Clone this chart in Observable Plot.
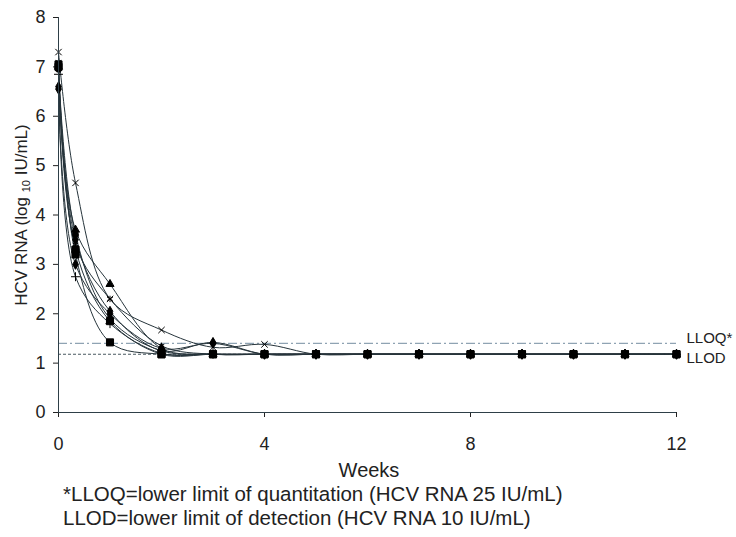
<!DOCTYPE html>
<html><head><meta charset="utf-8">
<script src="https://cdn.jsdelivr.net/npm/d3@7"></script>
<script src="https://cdn.jsdelivr.net/npm/@observablehq/plot@0.6"></script>
<style>
body{margin:0;background:#fff;font-family:"Liberation Sans",Arial,sans-serif;}
#notes{margin-left:63px;font-size:20.5px;line-height:24px;color:#222;}
</style></head>
<body>
<div id="chart"></div>
<div id="notes">
<div>*LLOQ=lower limit of quantitation (HCV RNA 25 IU/mL)</div>
<div>LLOD=lower limit of detection (HCV RNA 10 IU/mL)</div>
</div>
<script>
const weeks = [0, 0.33, 1, 2, 3, 4, 5, 6, 7, 8, 9, 10, 11, 12];
const patients = ["P1","P2","P3","P4","P5","P6","P7","P8","P9"];
const symbols  = ["times","triangle","diamond","asterisk","circle","plus","diamond","square","square"];
const p1 = [7.30, 4.65, 2.30, 1.67, 1.32, 1.38, 1.18, 1.18, 1.18, 1.18, 1.18, 1.18, 1.18, 1.18];
const p2 = [7.00, 3.70, 2.60, 1.30, 1.18, 1.18, 1.18, 1.18, 1.18, 1.18, 1.18, 1.18, 1.18, 1.18];
const p3 = [6.60, 3.50, 2.05, 1.25, 1.42, 1.18, 1.18, 1.18, 1.18, 1.18, 1.18, 1.18, 1.18, 1.18];
const p4 = [7.10, 3.40, 2.30, 1.35, 1.18, 1.18, 1.18, 1.18, 1.18, 1.18, 1.18, 1.18, 1.18, 1.18];
const p5 = [6.95, 3.60, 1.90, 1.25, 1.18, 1.18, 1.18, 1.18, 1.18, 1.18, 1.18, 1.18, 1.18, 1.18];
const p6 = [6.85, 2.75, 1.80, 1.20, 1.18, 1.18, 1.18, 1.18, 1.18, 1.18, 1.18, 1.18, 1.18, 1.18];
const p7 = [6.55, 3.00, 2.00, 1.30, 1.40, 1.18, 1.18, 1.18, 1.18, 1.18, 1.18, 1.18, 1.18, 1.18];
const p8 = [7.00, 3.30, 1.85, 1.18, 1.18, 1.18, 1.18, 1.18, 1.18, 1.18, 1.18, 1.18, 1.18, 1.18];
const p9 = [7.05, 3.20, 1.42, 1.18, 1.18, 1.18, 1.18, 1.18, 1.18, 1.18, 1.18, 1.18, 1.18, 1.18];
const series = [p1, p2, p3, p4, p5, p6, p7, p8, p9];
const lloq = 1.40;   // log10(25)
const llod = 1.18;   // plotted LLOD level
const limitLabels = ["LLOQ*", "LLOD"];
const xTicks = [0, 4, 8, 12];
const yTicks = [0, 1, 2, 3, 4, 5, 6, 7, 8];

const rows = [];
series.forEach((vals, i) => vals.forEach((v, j) => rows.push({patient: patients[i], week: weeks[j], value: v})));
const squareRows = rows.filter(d => symbols[patients.indexOf(d.patient)] === "square");
const otherRows = rows.filter(d => symbols[patients.indexOf(d.patient)] !== "square");

const chart = Plot.plot({
  width: 736, height: 482,
  marginLeft: 58, marginRight: 60, marginTop: 17, marginBottom: 70,
  style: {fontFamily: "Liberation Sans, Arial, sans-serif", fontSize: "18px", color: "#222", background: "white"},
  x: {domain: [0, 12], ticks: xTicks, label: null, tickSize: 5, tickPadding: 20},
  y: {domain: [0, 8], ticks: yTicks, label: null, tickSize: 5, tickPadding: 8},
  symbol: {domain: patients, range: symbols},
  marks: [
    Plot.ruleY([lloq], {stroke: "#8fa3b3", strokeWidth: 1.2, strokeDasharray: "9,3,2,3"}),
    Plot.ruleY([llod], {stroke: "#4a5a62", strokeWidth: 1.2, strokeDasharray: "3,2"}),
    Plot.line(rows, {x: "week", y: "value", z: "patient", curve: "catmull-rom", stroke: "#26343b", strokeWidth: 1}),
    Plot.dot(otherRows, {x: "week", y: "value", symbol: "patient", fill: "black", stroke: "black", strokeWidth: 1, r: 3}),
    Plot.dot(squareRows, {x: "week", y: "value", symbol: "patient", fill: "black", stroke: "black", strokeWidth: 1, r: 4}),
    Plot.ruleX([0], {y1: 0, y2: 8, stroke: "#2e3f48"}),
    Plot.ruleY([0], {stroke: "#2e3f48"}),
    Plot.text([{label: limitLabels[0], y: lloq}], {x: () => 12, y: "y", text: "label", dx: 10, dy: -5, textAnchor: "start", fontSize: 15, fill: "#222"}),
    Plot.text([{label: limitLabels[1], y: llod}], {x: () => 12, y: "y", text: "label", dx: 10, dy: 4, textAnchor: "start", fontSize: 15, fill: "#222"})
  ]
});
const svg = d3.select(chart);
const yl = svg.append("text")
  .attr("transform", "translate(27,215) rotate(-90)")
  .attr("text-anchor", "middle")
  .attr("fill", "#222")
  .style("font-size", "17px");
yl.append("tspan").text("HCV RNA (log ");
yl.append("tspan").text("10").style("font-size", "11px").attr("dy", "3");
yl.append("tspan").text(" IU/mL)").attr("dy", "-3");
svg.append("text")
  .attr("x", 369).attr("y", 477)
  .attr("text-anchor", "middle")
  .attr("fill", "#222")
  .style("font-size", "20px")
  .text("Weeks");
document.getElementById("chart").appendChild(chart);
</script>
</body></html>
